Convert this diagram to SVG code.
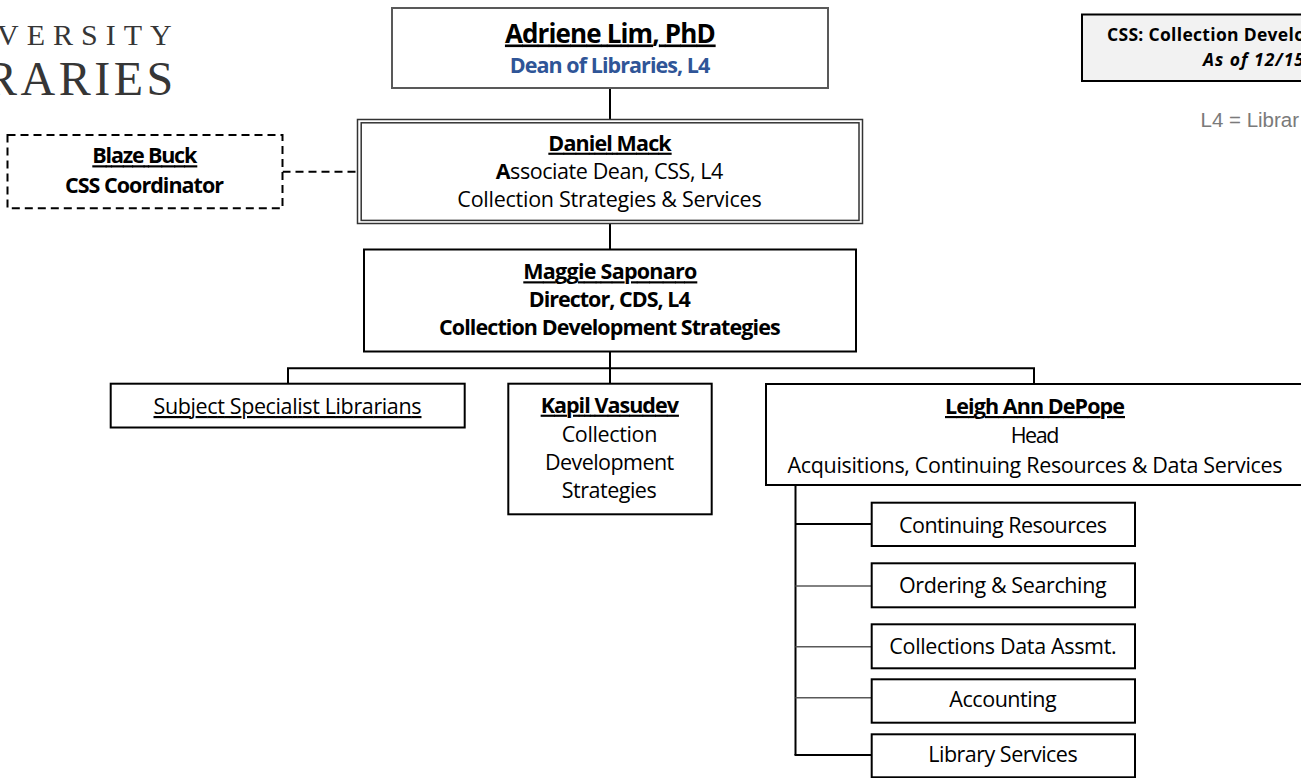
<svg xmlns="http://www.w3.org/2000/svg" width="1301" height="778" viewBox="0 0 1301 778">
<style>
  .t { font-family: "Open Sans", "Noto Sans", sans-serif; font-size: 21.5px; fill: #000; text-anchor: middle; }
  .b { font-weight: 700; }
  .u { text-decoration: underline; }
  .box { fill: #fff; stroke: #000; stroke-width: 2; }
  .conn { fill: none; stroke: #000; stroke-width: 2; }
  .thin { fill: none; stroke: #595959; stroke-width: 1.5; }
  .logo { font-family: "Liberation Serif", "DejaVu Serif", serif; fill: #363636; }
</style>
<rect width="1301" height="778" fill="#fff"/>

<g id="logo">
  <text class="logo" font-size="30" letter-spacing="8" x="-3" y="45">VERSITY</text>
  <text class="logo" font-size="48" letter-spacing="3.5" x="-15" y="95">RARIES</text>
</g>

<g id="title">
  <rect x="1082" y="14.5" width="230" height="66.5" fill="#f2f2f2" stroke="#000" stroke-width="2"/>
  <text font-family="Open Sans, sans-serif" font-weight="700" font-size="17.5" x="1107" y="40.5" textLength="198">CSS: Collection Develo</text>
  <text font-family="Open Sans, sans-serif" font-weight="700" font-style="italic" font-size="17.5" x="1203" y="66" textLength="101">As of 12/15</text>
</g>
<g id="legend">
  <text font-family="Liberation Sans, Arial, sans-serif" font-size="20.5" fill="#7a7a7a" x="1200.5" y="126.5">L4 = Librar</text>
</g>

<g id="connectors">
  <line class="conn" x1="610" y1="88" x2="610" y2="119"/>
  <line class="conn" x1="610" y1="207" x2="610" y2="249"/>
  <line x1="282.5" y1="171.7" x2="357" y2="171.7" stroke="#000" stroke-width="2" stroke-dasharray="8 5"/>
  <line class="conn" x1="610" y1="351.7" x2="610" y2="383.7"/>
  <polyline class="conn" points="288,383.5 288,368.3 1034,368.3 1034,384"/>
  <line class="conn" x1="795.5" y1="485" x2="795.5" y2="755"/>
  <line class="conn" x1="795.5" y1="524" x2="872" y2="524"/>
  <line class="thin" x1="795.5" y1="586" x2="872" y2="586"/>
  <line class="thin" x1="795.5" y1="646.7" x2="872" y2="646.7"/>
  <line class="thin" x1="795.5" y1="697.7" x2="872" y2="697.7"/>
  <polyline class="conn" points="795.5,754 795.5,755 872,755"/>
</g>

<g id="adriene">
  <rect x="392" y="8" width="436" height="80" fill="#fff" stroke="#595959" stroke-width="2"/>
  <text class="t b u" style="font-size:26px" x="610.3" y="42.5" textLength="210.7">Adriene Lim, PhD</text>
  <text class="t b" style="fill:#2F5597" x="610" y="72.7" textLength="200.7">Dean of Libraries, L4</text>
</g>

<g id="blaze">
  <rect x="7.5" y="135" width="275" height="73.3" fill="#fff" stroke="#000" stroke-width="2" stroke-dasharray="8 5"/>
  <text class="t b u" x="144.8" y="163.3" textLength="105">Blaze Buck</text>
  <text class="t b" x="144.5" y="192.7" textLength="159">CSS Coordinator</text>
</g>

<g id="daniel">
  <rect x="357.5" y="119.5" width="505" height="104" fill="#fff" stroke="#333" stroke-width="1.5"/>
  <rect x="361.2" y="122.8" width="497.8" height="97.6" fill="none" stroke="#333" stroke-width="1.5"/>
  <text class="t b u" x="610" y="150.7" textLength="123.3">Daniel Mack</text>
  <text class="t" x="609.5" y="179" textLength="227.7"><tspan class="b">A</tspan>ssociate Dean, CSS, L4</text>
  <text class="t" x="609.5" y="207.3" textLength="304.3">Collection Strategies &amp; Services</text>
</g>

<g id="maggie">
  <rect class="box" x="364" y="249.5" width="492" height="102"/>
  <text class="t b u" x="610.3" y="279.3" textLength="174">Maggie Saponaro</text>
  <text class="t b" x="609.7" y="307.3" textLength="162">Director, CDS, L4</text>
  <text class="t b" x="609.8" y="335" textLength="341.7">Collection Development Strategies</text>
</g>

<g id="subject">
  <rect class="box" x="110.7" y="383.7" width="354" height="43.8"/>
  <text class="t u" x="287.5" y="414" textLength="268">Subject Specialist Librarians</text>
</g>

<g id="kapil">
  <rect class="box" x="508.3" y="383.7" width="203.4" height="130.6"/>
  <text class="t b u" x="609.8" y="412.7" textLength="138.3">Kapil Vasudev</text>
  <text class="t" x="609.5" y="441.7" textLength="95.7">Collection</text>
  <text class="t" x="609.6" y="470" textLength="129.3">Development</text>
  <text class="t" x="609.2" y="498.3" textLength="95">Strategies</text>
</g>

<g id="leigh">
  <rect class="box" x="766" y="384" width="540" height="101"/>
  <text class="t b u" x="1035" y="414" textLength="180">Leigh Ann DePope</text>
  <text class="t" x="1035" y="443.4" textLength="48.6">Head</text>
  <text class="t" x="1035" y="472.8" textLength="495">Acquisitions, Continuing Resources &amp; Data Services</text>
</g>

<g id="continuing">
  <rect class="box" x="871.7" y="502.7" width="263.3" height="43.3"/>
  <text class="t" x="1003" y="532.8" textLength="208">Continuing Resources</text>
</g>
<g id="ordering">
  <rect class="box" x="871.7" y="563.3" width="263.3" height="44"/>
  <text class="t" x="1002.8" y="593.3" textLength="207.7">Ordering &amp; Searching</text>
</g>
<g id="collections">
  <rect class="box" x="871.7" y="624.3" width="263.3" height="44"/>
  <text class="t" x="1003" y="654.3" textLength="227.3">Collections Data Assmt.</text>
</g>
<g id="accounting">
  <rect class="box" x="871.7" y="679.3" width="263.3" height="43.4"/>
  <text class="t" x="1003" y="706.7" textLength="107.3">Accounting</text>
</g>
<g id="library">
  <rect class="box" x="871.7" y="734.3" width="263.3" height="43"/>
  <text class="t" x="1003" y="761.7" textLength="149.3">Library Services</text>
</g>
</svg>
